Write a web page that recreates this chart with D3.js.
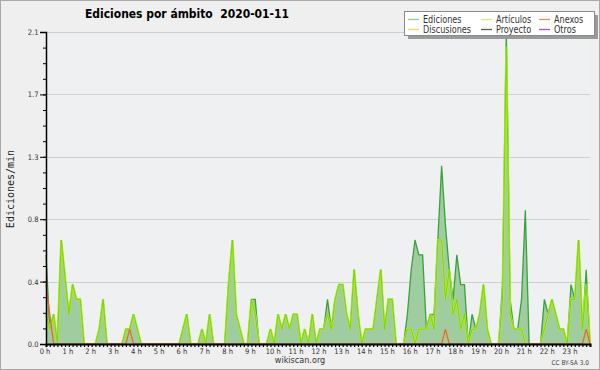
<!DOCTYPE html>
<html>
<head>
<meta charset="utf-8">
<script src="https://cdn.jsdelivr.net/npm/d3@7"></script>
<style>
  body { margin: 0; background: #efefef; }
  svg { display: block; }
  .cond { font-family: "DejaVu Sans Condensed", "DejaVu Sans", sans-serif; font-stretch: condensed; }
</style>
</head>
<body>
<div id="chart"></div>
<script>
// 10-minute bins, 2020-01-11 (edits per minute)
const hours = d3.range(0, 24).map((h) => h + " h");

const ediciones = [
  0.6, 0.1, 0.2, 0, 0.7, 0.45, 0.2, 0.4, 0.3, 0.3, 0, 0,
  0, 0, 0.1, 0.3, 0, 0, 0, 0, 0, 0.1, 0.1, 0.2,
  0.1, 0, 0, 0, 0, 0, 0, 0, 0, 0, 0, 0,
  0.1, 0.2, 0, 0, 0, 0.1, 0, 0.2, 0, 0, 0, 0,
  0.4, 0.7, 0.2, 0.1, 0, 0, 0.3, 0.3, 0, 0, 0, 0.1,
  0, 0.2, 0.1, 0.2, 0.1, 0.2, 0.2, 0, 0.1, 0, 0.2, 0,
  0.1, 0.1, 0.3, 0.1, 0.3, 0.4, 0.4, 0.2, 0.1, 0.5, 0.2, 0,
  0.1, 0.1, 0.1, 0.3, 0.5, 0.1, 0.3, 0.3, 0, 0, 0, 0.2,
  0.5, 0.7, 0.6, 0.6, 0.1, 0.2, 0.2, 0.7, 1.2, 0.8, 0.5, 0.3,
  0.6, 0.4, 0.4, 0, 0.2, 0.1, 0.2, 0.4, 0.1, 0, 0, 0,
  0.4, 2.1, 0.3, 0.1, 0.1, 0.3, 0.9, 0, 0, 0, 0, 0.3,
  0.2, 0.3, 0.2, 0.1, 0.1, 0, 0.4, 0.3, 0.7, 0.1, 0.5, 0
];

const articulos = [
  0.2, 0.1, 0.2, 0, 0.7, 0.45, 0.2, 0.4, 0.3, 0.3, 0, 0,
  0, 0, 0.1, 0.3, 0, 0, 0, 0, 0, 0.1, 0.1, 0.2,
  0.1, 0, 0, 0, 0, 0, 0, 0, 0, 0, 0, 0,
  0.1, 0.2, 0, 0, 0, 0.1, 0, 0.2, 0, 0, 0, 0,
  0.4, 0.7, 0.2, 0.1, 0, 0, 0.3, 0.2, 0, 0, 0, 0.1,
  0, 0.2, 0.1, 0.2, 0.1, 0.2, 0.2, 0, 0.1, 0, 0.2, 0,
  0.1, 0.1, 0.2, 0.1, 0.3, 0.4, 0.4, 0.2, 0.1, 0.5, 0.2, 0,
  0.1, 0.1, 0.1, 0.3, 0.5, 0.1, 0.3, 0.3, 0, 0, 0, 0.1,
  0.1, 0, 0.1, 0.1, 0.1, 0.2, 0.1, 0.7, 0.7, 0.3, 0.5, 0.2,
  0.3, 0.1, 0.2, 0, 0.1, 0.1, 0.2, 0.4, 0.1, 0, 0, 0,
  0.3, 2.0, 0.2, 0.1, 0.1, 0.1, 0, 0, 0, 0, 0, 0.1,
  0.2, 0.3, 0.2, 0.1, 0.1, 0, 0.3, 0.3, 0.7, 0.1, 0.4, 0
];

// anexos: bin index -> value, zero elsewhere
const anexosBins = [0, 1, 2, 21, 22, 23, 104, 105, 106, 141, 142, 143];
const anexosVals = [0.4, 0.2, 0, 0, 0.1, 0, 0, 0.1, 0, 0, 0.1, 0];

const legendNames = ["Ediciones", "Discusiones", "Artículos", "Proyecto", "Anexos", "Otros"];
const legendColors = ["#8fd08f", "#f3d65a", "#d2ef7a", "#5a5a5a", "#f08a50", "#9b55ee"];

const yMajor = [0, 0.42, 0.84, 1.26, 1.68, 2.1];

const width = 600;
const height = 370;
const margin = { top: 32, right: 10, bottom: 26, left: 46 };

const svg = d3
  .select("#chart")
  .append("svg")
  .attr("width", width)
  .attr("height", height);

svg
  .append("rect")
  .attr("x", 0.5)
  .attr("y", 0.5)
  .attr("width", width - 1)
  .attr("height", height - 1)
  .attr("fill", "#efefef")
  .attr("stroke", "#a8a8a8");

const x = d3.scaleLinear().domain([0, ediciones.length - 1]).range([margin.left, width - margin.right]);
const y = d3.scaleLinear().domain([0, 2.1]).range([height - margin.bottom, margin.top]);

// plot background + gridlines
svg
  .append("rect")
  .attr("x", x(0))
  .attr("y", y(2.1))
  .attr("width", x(143) - x(0))
  .attr("height", y(0) - y(2.1))
  .attr("fill", "#eff0f2");

svg
  .selectAll("gridline")
  .data(yMajor.slice(1))
  .enter()
  .append("line")
  .attr("x1", x(0))
  .attr("x2", x(143))
  .attr("y1", (d) => Math.round(y(d)) + 0.5)
  .attr("y2", (d) => Math.round(y(d)) + 0.5)
  .attr("stroke", "#cfcfcf");

// ediciones area
const area = d3
  .area()
  .x((d, i) => x(i))
  .y0(y(0))
  .y1((d) => y(d));

const line = d3
  .line()
  .x((d, i) => x(i))
  .y((d) => y(d));

svg
  .append("path")
  .datum(ediciones)
  .attr("d", area)
  .attr("fill", "#9fcd9f");

svg
  .append("path")
  .datum(ediciones)
  .attr("d", line)
  .attr("fill", "none")
  .attr("stroke", "#3aa23a")
  .attr("stroke-width", 1.3);

svg
  .append("path")
  .datum(articulos)
  .attr("d", line)
  .attr("fill", "none")
  .attr("stroke", "#b9e83a")
  .attr("stroke-width", 2.2);

svg
  .append("path")
  .datum(articulos)
  .attr("d", line)
  .attr("fill", "none")
  .attr("stroke", "#78d800")
  .attr("stroke-width", 1);

svg
  .append("path")
  .datum(anexosVals)
  .attr(
    "d",
    d3
      .line()
      .x((d, i) => x(anexosBins[i]))
      .y((d) => y(d))
  )
  .attr("fill", "none")
  .attr("stroke", "#ee6a22")
  .attr("stroke-width", 1.3);

// axes
const yAxis = svg
  .append("g")
  .attr("transform", `translate(${x(0)},0)`)
  .call(
    d3
      .axisLeft(y)
      .tickValues(yMajor)
      .tickSize(6)
      .tickPadding(1.5)
      .tickFormat((d) => d.toFixed(1))
  );
yAxis.select(".domain").attr("stroke", "#000").attr("stroke-width", 1.5);
yAxis.selectAll("text").attr("class", "cond").style("font-size", "7.5px").attr("fill", "#333");

svg
  .append("g")
  .attr("transform", `translate(${x(0)},0)`)
  .call(
    d3
      .axisLeft(y)
      .tickValues(d3.range(0, 21).map((k) => k * 0.105))
      .tickSize(3)
      .tickFormat("")
  )
  .select(".domain")
  .remove();

const xAxis = svg
  .append("g")
  .attr("transform", `translate(0,${y(0)})`)
  .call(
    d3
      .axisBottom(x)
      .tickValues(d3.range(0, 144))
      .tickSize(3)
      .tickFormat((d) => (d % 6 === 0 ? hours[d / 6] : ""))
  );
xAxis.select(".domain").attr("stroke", "#000").attr("stroke-width", 2);
xAxis.selectAll(".tick line").attr("stroke-width", 1.2);
xAxis
  .selectAll("text")
  .attr("class", "cond")
  .style("font-size", "7.5px")
  .attr("fill", "#333")
  .attr("y", 9.5)
  .attr("dy", 0)
  .attr("dx", -1.5);

// title
svg
  .append("text")
  .attr("x", 85)
  .attr("y", 18)
  .attr("class", "cond")
  .style("white-space", "pre")
  .attr("font-weight", "bold")
  .attr("font-size", 12)
  .attr("textLength", 204)
  .attr("lengthAdjust", "spacingAndGlyphs")
  .text("Ediciones por ámbito  2020-01-11");

svg
  .append("text")
  .attr("transform", "translate(14,189) rotate(-90)")
  .attr("text-anchor", "middle")
  .attr("font-family", "DejaVu Sans Mono, monospace")
  .attr("font-size", 10)
  .attr("fill", "#222")
  .text("Ediciones/min");

svg
  .append("text")
  .attr("x", 300)
  .attr("y", 363)
  .attr("text-anchor", "middle")
  .attr("class", "cond")
  .attr("font-size", 9)
  .attr("fill", "#333")
  .text("wikiscan.org");

svg
  .append("text")
  .attr("x", 589)
  .attr("y", 365)
  .attr("text-anchor", "end")
  .attr("class", "cond")
  .attr("font-size", 6.5)
  .attr("fill", "#444")
  .text("CC BY-SA 3.0");

// legend
const legend = svg.append("g");
legend
  .append("rect")
  .attr("x", 408)
  .attr("y", 15)
  .attr("width", 190)
  .attr("height", 24)
  .attr("fill", "#9a9a9a");
legend
  .append("rect")
  .attr("x", 404.5)
  .attr("y", 11.5)
  .attr("width", 190)
  .attr("height", 24)
  .attr("fill", "#fff")
  .attr("stroke", "#8a8a8a");

const colX = [408, 481, 539];
const items = legend
  .selectAll("legendItem")
  .data(legendNames)
  .enter()
  .append("g")
  .attr("transform", (d, i) => `translate(${colX[Math.floor(i / 2)]},${i % 2 === 0 ? 19.5 : 29.5})`);

items
  .append("line")
  .attr("x1", 0)
  .attr("x2", 11)
  .attr("stroke", (d, i) => legendColors[i])
  .attr("stroke-width", 1.3);

items
  .append("text")
  .attr("x", 15)
  .attr("y", 3.6)
  .attr("class", "cond")
  .attr("font-size", 10)
  .attr("fill", "#333")
  .text((d) => d)
  .each(function () {
    // squeeze to condensed width (the condensed face is not installed)
    const w = this.getComputedTextLength();
    d3.select(this).attr("textLength", w * 0.9).attr("lengthAdjust", "spacingAndGlyphs");
  });
</script>
</body>
</html>
